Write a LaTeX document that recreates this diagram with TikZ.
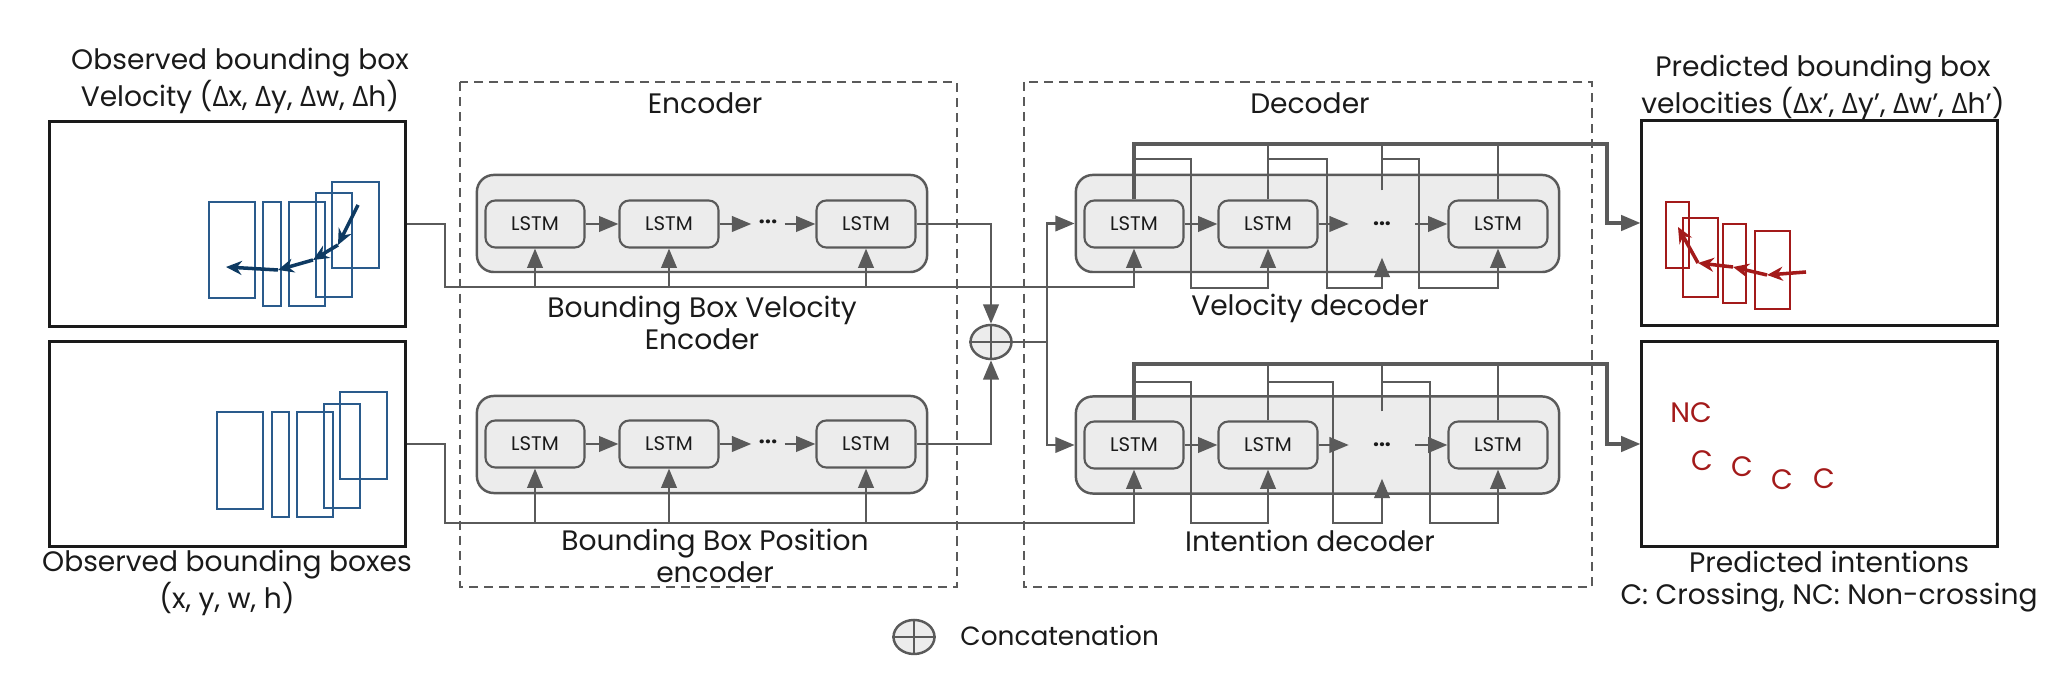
\documentclass[tikz,border=0pt]{standalone}
\usepackage{fontspec}
\setmainfont{Poppins}
\newfontfamily\greekfont{Open Sans}
\usetikzlibrary{arrows.meta,shapes.geometric}
\definecolor{linegray}{HTML}{5A5A5A}
\definecolor{boxfill}{HTML}{ECECEC}
\definecolor{textgray}{HTML}{1A1A1A}
\definecolor{bbblue}{HTML}{2A5B8C}
\definecolor{bbdark}{HTML}{0E3A62}
\definecolor{bbred}{HTML}{A31A1A}
\newcommand{\dlt}{{\greekfont Δ}}

\tikzset{
  lstm/.style={draw=linegray, fill=boxfill, rounded corners=2.8pt, line width=0.6pt,
    minimum width=0.99cm, minimum height=0.47cm, inner sep=0pt,
    font=\fontsize{5.6}{6}\selectfont, text=textgray},
  lstmrow/.style={draw=linegray, fill=boxfill, rounded corners=4.8pt, line width=0.7pt,
    minimum height=0.97cm, inner sep=0pt},
  bbframe/.style={draw=textgray, line width=0.85pt, minimum width=3.55cm,
    minimum height=2.04cm, inner sep=0pt},
  stage/.style={draw=linegray, line width=0.6pt, dash pattern=on 2.6pt off 1.7pt},
  conn/.style={draw=linegray, line width=0.7pt},
  arr/.style={conn, -{Triangle[length=5.5pt,width=4.4pt]}},
  txt/.style={font=\fontsize{8}{9.1}\selectfont, align=center, text=textgray},
  ellip/.style={inner sep=0pt, font=\bfseries\fontsize{6}{6}\selectfont, text=textgray},
  concat/.style={ellipse, draw=linegray, fill=boxfill, line width=0.7pt,
    minimum width=0.41cm, minimum height=0.34cm, inner sep=0pt},
  intent/.style={font=\fontsize{8}{9}\selectfont, text=bbred},
}

\begin{document}
\begin{tikzpicture}[x=0.01cm, y=-0.01cm]
\useasboundingbox (0,0) rectangle (2048,674);

% input frames
\node[bbframe] (obsvel) at (227.5,224) {};
\node[bbframe] (obspos) at (227.5,444) {};
\node[txt] (obsvellbl) at (240,81) {Observed bounding box\\Velocity (\dlt x, \dlt y, \dlt w, \dlt h)};
\node[txt] (obsposlbl) at (227,583) {Observed bounding boxes\\(x, y, w, h)};

\foreach \xa/\ya/\xb/\yb in {209/202/255/298, 263/202/281/306, 289/202/325/306, 316/193/352/297, 332/182/379/268}
  \draw[bbblue, line width=0.7pt] (\xa,\ya) rectangle (\xb,\yb);
\foreach \xa/\ya/\xb/\yb in {358/205/338/245, 338/245/313/260, 313/260/278/270, 278/270/226/267}
  \draw[bbdark, line width=1pt, -{Stealth[length=4.5pt,width=4pt]}] (\xa,\ya) -- (\xb,\yb);

\foreach \xa/\ya/\xb/\yb in {217/412/263/509, 272/412/289/517, 297/412/333/517, 324/404/360/508, 340/392/387/479}
  \draw[bbblue, line width=0.7pt] (\xa,\ya) rectangle (\xb,\yb);

% encoder
\draw[stage] (460,82) rectangle (957,587);
\node[txt] (enclbl) at (705,103) {Encoder};

\node[lstmrow, minimum width=4.5cm] (evrow) at (702,223.5) {};
\node[lstm] (ev1) at (535,224) {LSTM};
\node[lstm] (ev2) at (669,224) {LSTM};
\node[lstm] (ev3) at (866,224) {LSTM};
\node[ellip, minimum width=0.32cm] (evd) at (768,224) {···};
\node[txt] (evlbl) at (702,323) {Bounding Box Velocity\\Encoder};

\node[lstmrow, minimum width=4.5cm] (eprow) at (702,444.5) {};
\node[lstm] (ep1) at (535,444) {LSTM};
\node[lstm] (ep2) at (669,444) {LSTM};
\node[lstm] (ep3) at (866,444) {LSTM};
\node[ellip, minimum width=0.32cm] (epd) at (768,444) {···};
\node[txt] (eplbl) at (715,556) {Bounding Box Position\\encoder};

\draw[arr] (ev1) -- (ev2);
\draw[arr] (ev2) -- (evd);
\draw[arr] (evd) -- (ev3);
\draw[arr] (ep1) -- (ep2);
\draw[arr] (ep2) -- (epd);
\draw[arr] (epd) -- (ep3);

% concatenation
\node[concat] (concat) at (991,342) {};
\draw[conn] (concat.north) -- (concat.south) (concat.west) -- (concat.east);
\draw[arr] (ev3.east) -| (concat.north);
\draw[arr] (ep3.east) -| (concat.south);

% decoder
\draw[stage] (1024,82) rectangle (1592,587);
\node[txt] (declbl) at (1310,103) {Decoder};

\node[lstmrow, minimum width=4.83cm] (dvrow) at (1317.5,223.5) {};
\node[lstm] (dv1) at (1134,224) {LSTM};
\node[lstm] (dv2) at (1268,224) {LSTM};
\node[lstm] (dv3) at (1498,224) {LSTM};
\node[ellip, minimum width=0.65cm, minimum height=0.66cm] (dvd) at (1382,224) {...};
\node[txt] (dvlbl) at (1310,308) {Velocity decoder};

\node[lstmrow, minimum width=4.83cm] (dirow) at (1317.5,445) {};
\node[lstm] (di1) at (1134,445) {LSTM};
\node[lstm] (di2) at (1268,445) {LSTM};
\node[lstm] (di3) at (1498,445) {LSTM};
\node[ellip, minimum width=0.65cm, minimum height=0.66cm] (did) at (1382,445) {...};
\node[txt] (dilbl) at (1310,541) {Intention decoder};

\draw[arr] (dv1) -- (dv2);
\draw[arr] (dv2) -- (dvd);
\draw[arr] (dvd) -- (dv3);
\draw[arr] (di1) -- (di2);
\draw[arr] (di2) -- (did);
\draw[arr] (did) -- (di3);

\coordinate (split) at (1047,342);
\draw[conn] (concat.east) -- (split);
\draw[arr] (split) |- (dvrow.west);
\draw[arr] (split) |- (dirow.west);

% input buses
\coordinate (vbus) at (445,287);
\coordinate (pbus) at (445,523);
\draw[arr] (obsvel.east) -| (vbus) -| (dv1.south);
\draw[arr] (obspos.east) -| (pbus) -| (di1.south);
\foreach \n in {ev1,ev2,ev3} \draw[arr] (\n.south |- vbus) -- (\n.south);
\foreach \n in {ep1,ep2,ep3} \draw[arr] (\n.south |- pbus) -- (\n.south);

% outputs
\node[bbframe] (predvel) at (1819.5,223) {};
\node[bbframe] (predint) at (1819.5,444) {};
\node[txt] (predvellbl) at (1823,88) {Predicted bounding box\\velocities (\dlt x’, \dlt y’, \dlt w’, \dlt h’)};
\node[txt] (predintlbl) at (1829,582) {Predicted intentions\\C: Crossing, NC: Non-crossing};

\coordinate (vout) at (1607,144);
\coordinate (iout) at (1607,364);
\draw[arr, line width=0.9pt] (dv1.north) |- (vout) |- (predvel.west);
\draw[arr, line width=0.9pt] (di1.north) |- (iout) |- (predint.west);
\foreach \n in {dv2,dvd,dv3} \draw[conn] (\n.north) -- (\n.north |- vout);
\foreach \n in {di2,did,di3} \draw[conn] (\n.north) -- (\n.north |- iout);

% feedback
\draw[arr] (1134,159) -| (1191,288) -| (dv2.south);
\draw[arr] (1268,159) -| (1327,288) -| (dvd.south);
\draw[arr] (1382,159) -| (1419,288) -| (dv3.south);
\draw[arr] (1134,382) -| (1191,523) -| (di2.south);
\draw[arr] (1268,382) -| (1333,523) -| (did.south);
\draw[arr] (1382,382) -| (1430,523) -| (di3.south);

\foreach \xa/\ya/\xb/\yb in {1666/202/1689/268, 1683/218/1718/297, 1723/224/1746/303, 1755/231/1790/309}
  \draw[bbred, line width=0.7pt] (\xa,\ya) rectangle (\xb,\yb);
\foreach \xa/\ya/\xb/\yb in {1806/272/1767/275, 1767/275/1733/267, 1733/267/1698/263, 1698/263/1678/227}
  \draw[bbred, line width=1pt, -{Stealth[length=4.5pt,width=4pt]}] (\xa,\ya) -- (\xb,\yb);

\node[intent] (nc) at (1691,413) {NC};
\node[intent] (c1) at (1702,461) {C};
\node[intent] (c2) at (1742,467) {C};
\node[intent] (c3) at (1782,480) {C};
\node[intent] (c4) at (1824,479) {C};

% legend
\node[concat] (catkey) at (914,637) {};
\draw[conn] (catkey.north) -- (catkey.south) (catkey.west) -- (catkey.east);
\node[txt, anchor=west, font=\fontsize{7.5}{9}\selectfont] (catlbl) at (948,636) {Concatenation};
\end{tikzpicture}
\end{document}
